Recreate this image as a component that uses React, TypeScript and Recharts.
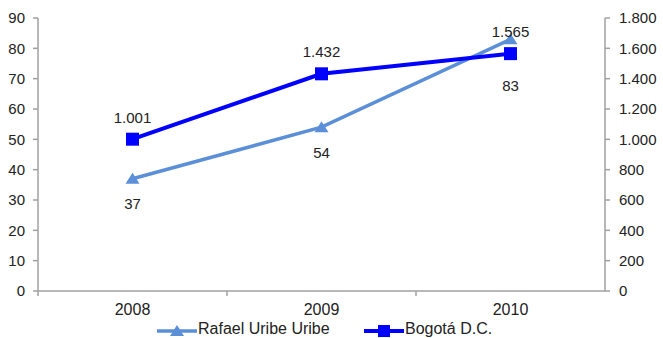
import { LineChart, Line, XAxis, YAxis, Legend, LabelList } from 'recharts'

const years = ['2008', '2009', '2010']
const rafaelUribe = [37, 54, 83]
const bogota = [1001, 1432, 1565]
const leftTicks = [0, 10, 20, 30, 40, 50, 60, 70, 80, 90]
const rightTicks = [0, 200, 400, 600, 800, 1000, 1200, 1400, 1600, 1800]

const data = years.map((year, i) => ({
  year,
  rafael: rafaelUribe[i],
  bogota: bogota[i],
}))

const LIGHT = '#5b8fd8'
const DARK = '#0000ff'
const AXIS = '#a0a0a0'
const TEXT = '#222'
const FONT = '"Liberation Sans", Arial, sans-serif'
const HALF_BAND = 94.5

// spanish style thousands separator
const fmt = (v: number) => String(v).replace(/\B(?=(\d{3})+(?!\d))/g, '.')

const XTick = (props: any) => {
  const { x, y, payload } = props
  return (
    <g>
      <line x1={x - HALF_BAND} x2={x - HALF_BAND} y1={y} y2={y + 5} stroke={AXIS} strokeWidth={1.5} />
      <text x={x} y={y + 24} textAnchor="middle" fontSize={16} fill={TEXT} fontFamily={FONT}>
        {payload.value}
      </text>
    </g>
  )
}

const Triangle = (props: any) => {
  const { cx, cy, index } = props
  if (cx == null || cy == null) return null
  return <polygon key={index} points={`${cx},${cy - 6} ${cx + 7},${cy + 5} ${cx - 7},${cy + 5}`} fill={LIGHT} />
}

const Square = (props: any) => {
  const { cx, cy, index } = props
  if (cx == null || cy == null) return null
  return <rect key={index} x={cx - 6.5} y={cy - 6.5} width={13} height={13} fill={DARK} />
}

const BelowLabel = (props: any) => {
  const { x, y, value, index } = props
  const off = index === 2 ? 46 : 25
  return (
    <text x={x} y={y + off} textAnchor="middle" dominantBaseline="central" fontSize={15} fill={TEXT} fontFamily={FONT}>
      {value}
    </text>
  )
}

const AboveLabel = (props: any) => {
  const { x, y, value } = props
  return (
    <text x={x} y={y - 22} textAnchor="middle" dominantBaseline="central" fontSize={15} fill={TEXT} fontFamily={FONT}>
      {fmt(value)}
    </text>
  )
}

const LegendContent = () => (
  <svg width={663} height={22} style={{ display: 'block' }}>
    <line x1={157} x2={197} y1={15} y2={15} stroke={LIGHT} strokeWidth={3.5} />
    <polygon points="177,9 184,20 170,20" fill={LIGHT} />
    <text x={198} y={18} fontSize={16} fill={TEXT} fontFamily={FONT}>Rafael Uribe Uribe</text>
    <line x1={364} x2={404} y1={15} y2={15} stroke={DARK} strokeWidth={4} />
    <rect x={378} y={9} width={12} height={12} fill={DARK} />
    <text x={405} y={18} fontSize={16} fill={TEXT} fontFamily={FONT}>Bogotá D.C.</text>
  </svg>
)

export default function App() {
  return (
    <div style={{ position: 'absolute', left: 0, top: 0, background: '#fff' }}>
      <LineChart width={663} height={338} data={data} margin={{ top: 18, right: 0, bottom: 0, left: 0 }}>
        <XAxis
          dataKey="year"
          height={25}
          padding={{ left: HALF_BAND, right: HALF_BAND }}
          tickLine={false}
          tickSize={0}
          tickMargin={0}
          tick={<XTick />}
          axisLine={{ stroke: AXIS, strokeWidth: 1.5 }}
        />
        <YAxis
          yAxisId="left"
          width={38}
          domain={[0, 90]}
          ticks={leftTicks}
          interval={0}
          tickSize={5}
          tickMargin={8}
          axisLine={{ stroke: AXIS, strokeWidth: 1.5 }}
          tickLine={{ stroke: AXIS, strokeWidth: 1.5 }}
          tick={{ fill: TEXT, fontSize: 15, fontFamily: FONT }}
        />
        <YAxis
          yAxisId="right"
          orientation="right"
          width={58}
          domain={[0, 1800]}
          ticks={rightTicks}
          interval={0}
          tickSize={5}
          tickMargin={9}
          tickFormatter={fmt}
          axisLine={{ stroke: AXIS, strokeWidth: 1.5 }}
          tickLine={{ stroke: AXIS, strokeWidth: 1.5 }}
          tick={{ fill: TEXT, fontSize: 15, fontFamily: FONT, textAnchor: 'start' }}
        />
        <Legend verticalAlign="bottom" height={22} content={<LegendContent />} />
        <Line
          yAxisId="left"
          dataKey="rafael"
          name="Rafael Uribe Uribe"
          stroke={LIGHT}
          strokeWidth={3.5}
          dot={<Triangle />}
          activeDot={false}
          isAnimationActive={false}
        >
          <LabelList dataKey="rafael" content={<BelowLabel />} />
        </Line>
        <Line
          yAxisId="right"
          dataKey="bogota"
          name="Bogotá D.C."
          stroke={DARK}
          strokeWidth={4}
          dot={<Square />}
          activeDot={false}
          isAnimationActive={false}
        >
          <LabelList dataKey="bogota" content={<AboveLabel />} />
        </Line>
      </LineChart>
    </div>
  )
}
